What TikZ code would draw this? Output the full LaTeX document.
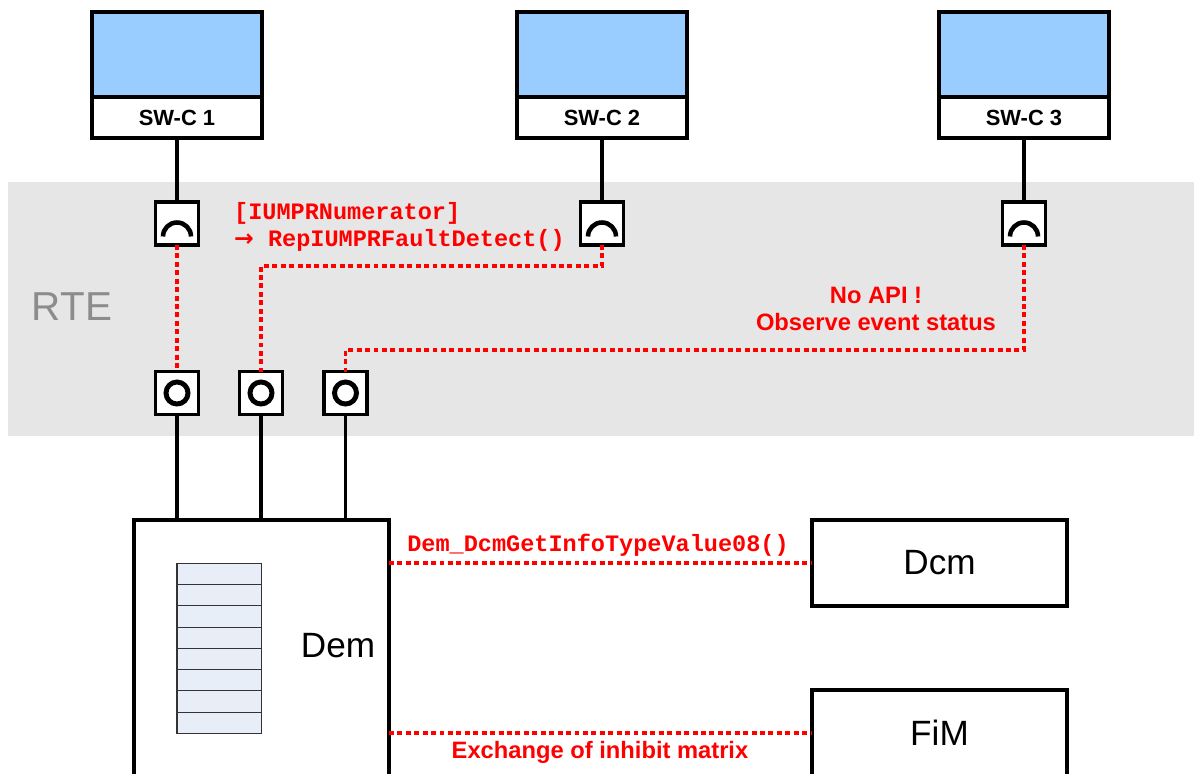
\documentclass[tikz,border=0pt]{standalone}
\usepackage{fontspec}
\setmainfont{Liberation Sans}
\setmonofont{Liberation Mono}
\newfontfamily\arrowfont{DejaVu Sans}
\usetikzlibrary{positioning}
\definecolor{swblue}{HTML}{99CCFF}
\definecolor{rtegray}{HTML}{E6E6E6}
\definecolor{rtetext}{HTML}{8C8C8C}
\definecolor{cellfill}{HTML}{E8EEF8}
\definecolor{apired}{HTML}{FF0000}
\begin{document}
\begin{tikzpicture}[x=0.02cm, y=-0.02cm, line join=miter]
\tikzset{
    box/.style={draw, line width=2pt, inner sep=0pt, outer sep=0pt},
    swbody/.style={box, fill=swblue, minimum width=3.4cm, minimum height=1.7cm},
    swlabel/.style={box, fill=white, minimum width=3.4cm, minimum height=0.82cm, font=\fontsize{12.5}{14}\selectfont\bfseries},
    port/.style={box, fill=white, minimum width=0.86cm, minimum height=0.86cm},
    portarc/.style={draw, line width=2.6pt},
    portring/.style={draw, line width=2.8pt},
    wire/.style={draw, line width=1.8pt},
    apiline/.style={draw=apired, line width=1.8pt, dash pattern=on 2.8pt off 2pt},
    apimono/.style={text=apired, font=\fontsize{13.4}{15.4}\selectfont\ttfamily\bfseries},
    apitext/.style={text=apired, font=\fontsize{13.5}{15.4}\selectfont\bfseries},
    module/.style={box, fill=white, minimum width=5.1cm, font=\fontsize{20}{24}\selectfont},
    cell/.style={draw=black!80, line width=0.6pt, fill=cellfill}
}
\useasboundingbox (0,0) rectangle (1194,774);
\clip (0,0) rectangle (1194,774);
% RTE layer
\fill[rtegray] (8,182) rectangle (1194,436);
\node[text=rtetext, font=\fontsize{23}{26}\selectfont] (rte) at (72,307) {RTE};
% software components with their require ports
\foreach \i/\x in {1/177, 2/602, 3/1024} {
    \node[swbody] (swtop\i) at (\x,54.5) {};
    \node[swlabel] (sw\i) at (\x,117.5) {SW-C \i};
    \node[port] (req\i) at (\x,223.5) {};
    \draw[portarc] ([xshift=-0.28cm, yshift=-0.26cm]req\i.center) arc[start angle=180, end angle=0, radius=0.28cm];
    \draw[wire] (sw\i.south) -- (req\i.north);
}
% Dem provide ports
\foreach \i/\x in {1/177, 2/261, 3/345.5} {
    \node[port] (prov\i) at (\x,393) {};
    \draw[portring] (prov\i.center) circle[radius=0.22cm];
}
% modules
\node[module, minimum height=5.4cm] (dem) at (261.5,655) {};
\node[font=\fontsize{20}{24}\selectfont] (demlabel) at (338,646) {Dem};
\node[module, minimum height=1.72cm] (dcm) at (939.5,563) {Dcm};
\node[module, minimum height=1.72cm] (fim) at (939.5,733) {FiM};
\foreach \k in {0,...,7}
    \draw[cell] (177,563.3+21.25*\k) rectangle +(84.7,21.25);
\foreach \i in {1,2,3}
    \draw[wire] (prov\i.south) -- (prov\i.south |- dem.north);
% interfaces
\draw[apiline] (req1.south) -- (prov1.north);
\draw[apiline] (req2.south) -- ++(0,21) -| (prov2.north);
\draw[apiline] (req3.south) -- ++(0,105) -| (prov3.north);
\draw[apiline] (dcm.west -| dem.east) -- (dcm.west);
\draw[apiline] (fim.west -| dem.east) -- (fim.west);
\node[apimono, anchor=west, align=left] (iumpr) at (228,226.5)
    {[IUMPRNumerator]\\{\arrowfont\bfseries →} RepIUMPRFaultDetect()};
\node[apitext, align=center] (noapi) at (876,308.5) {No API !\\Observe event status};
\node[apimono] (infotype) at (598,545) {Dem\_DcmGetInfoTypeValue08()};
\node[apitext] (inhibit) at (600,752) {Exchange of inhibit matrix};
\end{tikzpicture}
\end{document}
